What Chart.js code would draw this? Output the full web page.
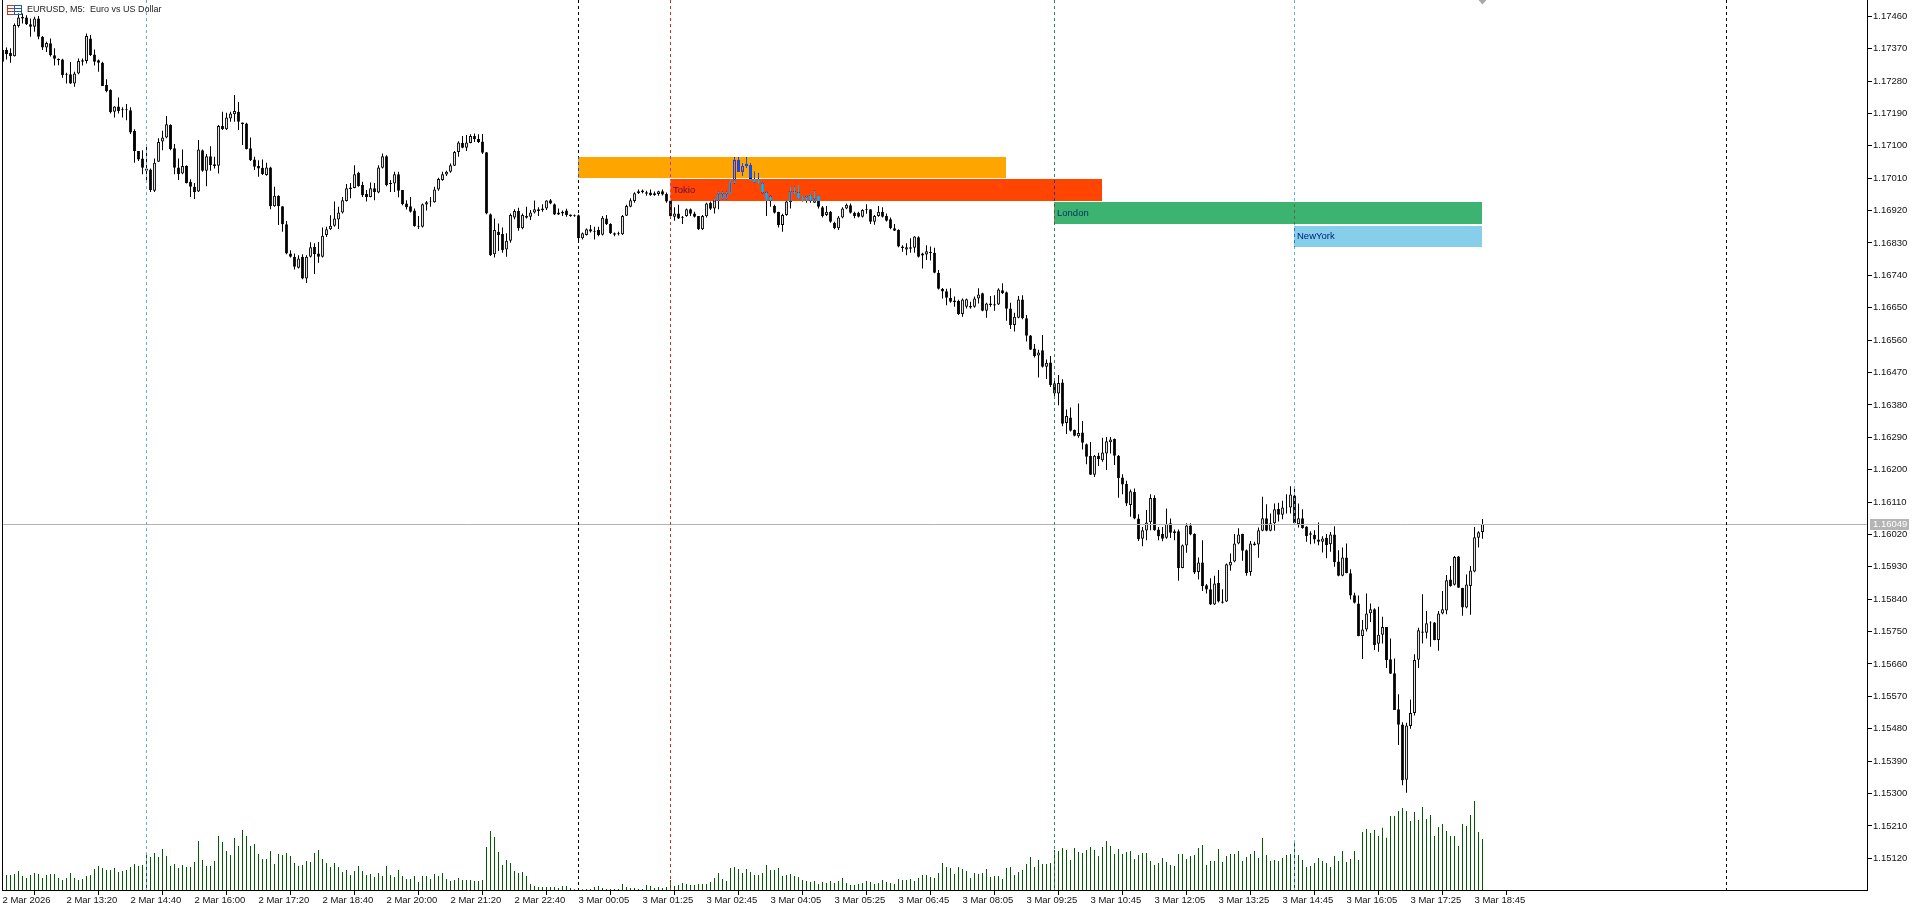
<!DOCTYPE html>
<html>
<head>
<meta charset="utf-8">
<title>EURUSD, M5</title>
<script src="https://cdn.jsdelivr.net/npm/chart.js@4"></script>
<style>
  html, body { margin: 0; padding: 0; background: #fff; }
  canvas { display: block; }
</style>
</head>
<body>
<canvas id="myChart" width="1919" height="911"></canvas>
<script>
// prices are in points, 1 point = 0.00001
const opens = [
117366,117366,117359,117349,117433,117454,117457,117438,117431,117454,
117403,117373,117385,117352,117342,117340,117299,117299,117273,117301,
117338,117336,117398,117354,117338,117331,117269,117255,117195,117209,
117202,117202,117199,117141,117086,117065,117037,117034,116975,117056,
117112,117123,117158,117093,117040,117023,117044,117000,116986,116973,
117088,117031,117071,117049,117045,117155,117146,117176,117188,117195,
117165,117162,117093,117062,117044,117039,117019,117040,116932,116961,
116932,116882,116801,116792,116761,116792,116731,116792,116819,116801,
116792,116852,116868,116878,116895,116915,116947,116984,116983,117025,
116991,116966,116958,116982,116970,117039,117071,116997,116995,117021,
116977,116940,116932,116920,116878,116875,116937,116945,116943,116979,
117005,117020,117028,117045,117083,117108,117095,117108,117127,117119,
117112,117082,116910,116799,116861,116855,116812,116836,116901,116919,
116871,116905,116903,116915,116924,116921,116926,116949,116938,116909,
116917,116920,116909,116907,116907,116843,116852,116868,116864,116866,
116853,116898,116883,116857,116857,116854,116906,116931,116947,116968,
116976,116971,116970,116968,116966,116974,116966,116948,116903,116912,
116903,116905,116924,116912,116905,116868,116904,116942,116926,116948,
116954,116954,116968,117003,117061,117028,117050,117047,117005,117002,
116996,116970,116959,116933,116916,116880,116908,116943,116973,116970,
116956,116952,116963,116942,116961,116929,116908,116917,116886,116871,
116901,116926,116935,116914,116914,116903,116924,116924,116889,116905,
116917,116905,116896,116871,116866,116820,116812,116818,116817,116846,
116795,116798,116806,116803,116747,116703,116696,116678,116670,116669,
116633,116653,116655,116653,116676,116690,116642,116662,116660,116659,
116699,116693,116648,116602,116622,116673,116621,116573,116537,116517,
116532,116486,116498,116440,116412,116442,116330,116345,116310,116293,
116303,116271,116238,116186,116239,116226,116245,116276,116285,116239,
116178,116160,116102,116138,116064,116008,116031,116054,116121,116034,
116021,116011,116051,116023,116029,115927,115989,116045,116021,115916,
115942,115879,115868,115825,115886,115834,115834,115934,115945,115995,
116021,115976,115916,115995,115992,116030,116065,116030,116051,116091,
116075,116095,116095,116128,116049,116065,116042,116023,116019,116006,
116000,116011,115993,116020,115945,115905,115956,115912,115851,115828,
115738,115756,115801,115812,115716,115741,115763,115673,115634,115534,
115492,115338,115488,115524,115672,115750,115747,115775,115775,115727,
115800,115809,115895,115880,115959,115871,115817,115877,115917,116011,116027];
const closes = [
117334,117355,117349,117436,117457,117459,117438,117431,117454,117403,
117373,117386,117352,117342,117338,117297,117297,117273,117301,117336,
117334,117405,117352,117334,117331,117266,117252,117193,117209,117197,
117199,117199,117137,117086,117062,117039,117031,116977,117053,117111,
117123,117160,117091,117039,117021,117044,116997,116986,116972,117090,
117031,117071,117046,117044,117155,117146,117179,117190,117197,117167,
117160,117091,117060,117042,117037,117021,117040,116932,116961,116932,
116882,116801,116792,116764,116787,116731,116792,116818,116799,116792,
116850,116868,116878,116898,116915,116949,116982,116980,117021,116988,
116963,116958,116982,116972,117040,117071,116991,116994,117021,116975,
116938,116929,116917,116877,116875,116938,116943,116943,116979,117008,
117021,117028,117046,117083,117109,117095,117109,117127,117118,117111,
117081,116912,116796,116866,116852,116810,116836,116908,116919,116871,
116908,116900,116915,116924,116919,116926,116948,116940,116909,116915,
116912,116908,116904,116904,116843,116857,116868,116862,116861,116852,
116900,116882,116857,116853,116854,116905,116933,116949,116968,116974,
116971,116967,116963,116963,116974,116965,116945,116905,116912,116898,
116900,116924,116911,116903,116868,116905,116940,116925,116948,116968,
116968,116968,117000,117061,117028,117044,117044,117005,116999,116996,
116970,116952,116948,116914,116880,116908,116945,116973,116968,116954,
116952,116959,116948,116954,116931,116905,116917,116889,116871,116901,
116926,116936,116914,116905,116903,116922,116922,116889,116905,116917,
116903,116892,116871,116864,116820,116816,116818,116814,116848,116792,
116801,116807,116802,116747,116703,116695,116678,116667,116666,116633,
116673,116674,116651,116676,116687,116642,116662,116658,116656,116701,
116690,116647,116602,116625,116673,116621,116572,116533,116516,116526,
116486,116497,116435,116412,116441,116328,116349,116308,116294,116302,
116275,116236,116186,116239,116230,116248,116279,116284,116239,116177,
116159,116106,116140,116064,116007,116032,116053,116121,116032,116015,
116008,116050,116025,116029,115927,115990,116045,116020,115914,115942,
115877,115867,115825,115884,115834,115830,115937,115944,115995,116020,
115975,115913,115995,115990,116032,116065,116030,116051,116090,116075,
116095,116094,116131,116051,116065,116038,116016,116019,116006,116000,
116009,115991,116020,115943,115905,115956,115913,115850,115830,115738,
115756,115800,115812,115713,115741,115763,115671,115633,115532,115491,
115337,115489,115524,115671,115754,115747,115773,115773,115727,115800,
115812,115893,115877,115957,115872,115817,115881,115920,116012,116026,116049];
const highs = [
117368,117373,117371,117440,117468,117468,117463,117454,117459,117461,
117405,117389,117398,117371,117343,117342,117303,117333,117306,117343,
117343,117412,117408,117368,117340,117334,117285,117257,117210,117234,
117207,117216,117207,117146,117086,117088,117102,117037,117065,117121,
117142,117183,117160,117105,117065,117090,117046,117007,116997,117116,
117090,117077,117099,117070,117158,117195,117192,117195,117241,117222,
117165,117164,117123,117070,117060,117062,117053,117042,116986,116963,
116932,116891,116810,116801,116796,116799,116796,116832,116829,116833,
116873,116875,116907,116945,116931,116958,116994,116997,117046,117028,
117000,116977,116998,116997,117046,117079,117074,117005,117028,117028,
116977,116949,116958,116926,116905,116940,116947,116958,116986,117011,
117028,117031,117051,117086,117113,117127,117130,117132,117134,117132,
117133,117083,116912,116898,116884,116873,116857,116912,116924,116928,
116912,116931,116922,116948,116929,116938,116949,116952,116940,116926,
116920,116925,116909,116909,116909,116859,116870,116880,116875,116875,
116905,116908,116885,116859,116861,116908,116936,116954,116971,116979,
116979,116975,116979,116973,116975,116979,116970,116949,116929,116936,
116905,116926,116926,116917,116905,116908,116942,116945,116954,116973,
116973,116973,117005,117068,117068,117051,117068,117051,117028,117024,
116998,116973,116961,116936,116917,116911,116949,116988,116987,116991,
116963,116963,116968,116975,116963,116933,116933,116919,116889,116905,
116929,116940,116940,116917,116917,116924,116938,116924,116908,116933,
116929,116912,116901,116883,116868,116824,116829,116843,116849,116849,
116803,116824,116820,116817,116755,116705,116703,116704,116681,116672,
116676,116676,116667,116681,116704,116692,116664,116683,116685,116704,
116718,116695,116664,116636,116683,116685,116630,116574,116549,116533,
116574,116506,116516,116451,116463,116451,116367,116373,116312,116384,
116335,116273,116277,116241,116247,116289,116291,116291,116287,116241,
116187,116169,116145,116148,116076,116041,116088,116132,116129,116041,
116041,116092,116064,116034,116034,115992,116051,116051,116023,115956,
116004,115882,115898,115905,115921,115868,115939,115967,116021,116037,
116022,115978,116002,116000,116039,116125,116104,116078,116106,116108,
116114,116132,116154,116153,116106,116090,116043,116029,116032,116053,
116015,116021,116027,116043,115976,115984,115995,115923,115858,115850,
115782,115856,115828,115815,115819,115791,115763,115731,115675,115576,
115498,115497,115561,115687,115761,115854,115807,115779,115777,115807,
115863,115907,115932,115960,115960,115872,115909,115932,116041,116029,116063];
const lows = [
117331,117340,117331,117348,117429,117440,117436,117403,117417,117396,
117366,117361,117348,117323,117324,117289,117273,117272,117264,117299,
117323,117329,117350,117323,117306,117266,117249,117190,117179,117190,
117179,117171,117133,117053,117058,117021,117005,116972,116972,117056,
117088,117121,117088,117021,117005,117021,116995,116958,116952,116972,
117028,116988,117031,117037,117023,117144,117144,117167,117167,117144,
117102,117090,117058,117033,117014,117019,117017,116924,116931,116880,
116861,116799,116790,116756,116759,116729,116719,116790,116744,116775,
116790,116847,116866,116875,116869,116912,116945,116954,116982,116986,
116958,116945,116957,116949,116968,117037,116988,116972,116972,116957,
116935,116923,116915,116875,116869,116873,116920,116931,116942,116975,
117003,117016,117025,117044,117070,117093,117086,117107,117111,117108,
117077,116910,116794,116790,116808,116803,116792,116831,116896,116864,
116868,116898,116894,116912,116905,116917,116922,116938,116908,116908,
116905,116903,116903,116903,116836,116840,116851,116859,116840,116849,
116851,116880,116855,116849,116851,116852,116905,116929,116942,116966,
116968,116961,116961,116961,116961,116962,116942,116898,116892,116897,
116883,116903,116905,116901,116866,116866,116901,116922,116912,116924,
116951,116951,116966,116996,117027,117016,117040,117003,116998,116994,
116968,116905,116931,116912,116873,116861,116906,116926,116966,116952,
116945,116942,116942,116942,116926,116901,116905,116886,116868,116866,
116899,116924,116912,116899,116901,116901,116911,116883,116881,116903,
116901,116890,116868,116863,116818,116806,116796,116803,116803,116790,
116759,116783,116781,116746,116701,116676,116657,116664,116653,116630,
116625,116648,116647,116650,116662,116640,116622,116653,116642,116658,
116688,116614,116591,116584,116621,116618,116556,116533,116512,116456,
116484,116452,116430,116403,116379,116321,116299,116306,116293,116289,
116256,116215,116185,116180,116210,116222,116199,116245,116213,116122,
116132,116099,116069,116062,116002,115987,116004,116032,116030,116004,
116001,116008,116010,116004,115891,115926,115969,116018,115910,115895,
115863,115856,115824,115824,115831,115828,115832,115919,115943,115993,
115947,115905,115905,115989,115955,116029,116029,116029,116030,116056,
116062,116078,116078,116049,116039,116036,116000,115993,115995,115990,
115970,115954,115972,115930,115904,115904,115912,115839,115828,115737,
115674,115750,115777,115699,115694,115717,115649,115632,115532,115435,
115323,115302,115480,115517,115649,115717,115731,115708,115726,115697,
115798,115798,115875,115878,115871,115794,115815,115797,115915,115984,116008];
const volumes = [
45,45,45,48,57,42,36,45,51,48,36,45,48,48,36,30,36,51,36,30,
33,42,45,63,72,66,60,60,66,54,57,60,69,78,72,75,110,99,111,99,
123,102,72,78,66,75,69,69,84,147,90,72,72,87,162,144,117,105,156,132,
180,162,132,138,108,93,93,117,78,108,105,111,102,81,72,75,87,84,111,120,
93,81,69,81,69,54,60,45,57,72,57,45,48,39,51,42,72,45,39,60,
42,33,33,42,24,42,42,33,48,42,51,33,27,30,36,30,30,30,27,27,
30,129,177,159,114,75,90,81,57,51,54,42,18,12,9,9,9,9,9,6,
12,12,6,2,2,2,3,3,9,12,6,3,3,3,3,18,9,6,6,3,
3,15,12,6,9,6,9,30,12,15,21,18,15,15,18,18,18,24,36,51,
33,27,66,69,63,51,63,54,45,45,51,75,60,60,66,42,45,48,42,39,
30,27,24,27,18,24,21,27,21,27,36,21,15,15,18,21,27,24,18,21,
30,24,21,18,33,30,30,33,27,36,45,45,39,36,51,81,69,66,48,69,
63,57,36,51,48,51,63,39,42,42,33,66,69,45,54,60,78,99,69,90,
78,78,81,120,117,126,120,90,126,114,111,120,129,120,102,129,147,132,108,123,
108,114,117,93,105,111,111,87,75,81,96,84,75,72,108,108,93,102,105,126,
135,75,87,87,123,84,102,108,108,117,87,99,108,117,96,156,105,87,90,87,
96,105,108,140,105,90,69,72,81,96,87,81,69,102,87,117,84,93,117,90,
174,183,171,180,162,187,157,222,222,237,246,237,207,234,210,249,213,225,162,189,
198,177,162,162,132,198,192,225,267,174,153];

const xTickLabels = [
'2 Mar 2026','2 Mar 13:20','2 Mar 14:40','2 Mar 16:00','2 Mar 17:20','2 Mar 18:40','2 Mar 20:00','2 Mar 21:20',
'2 Mar 22:40','3 Mar 00:05','3 Mar 01:25','3 Mar 02:45','3 Mar 04:05','3 Mar 05:25','3 Mar 06:45','3 Mar 08:05',
'3 Mar 09:25','3 Mar 10:45','3 Mar 12:05','3 Mar 13:25','3 Mar 14:45','3 Mar 16:05','3 Mar 17:25','3 Mar 18:45'];
const yTickValues = [
1.1746,1.1737,1.1728,1.1719,1.171,1.1701,1.1692,1.1683,1.1674,1.1665,1.1656,1.1647,1.1638,1.1629,
1.162,1.1611,1.1602,1.1593,1.1584,1.1575,1.1566,1.1557,1.1548,1.1539,1.153,1.1521,1.1512];
const lastPrice = 1.16049;

// session boxes, bars are counted from the first candle
const sessionNames = ['', 'Tokio', 'London', 'NewYork'];
const sessionStart = [144, 167, 263, 323];
const sessionEnd = [251, 275, 370, 370];
const sessionTop = [1.1707, 1.17008, 1.16944, 1.16877];
const sessionBottom = [1.1701, 1.16946, 1.16882, 1.16819];
const sessionLines = [36, 144, 167, 263, 323, 431];

// the terminal xors the boxes over the chart, so these are the xor colours
const sessionXor = ['#005aff', '#00baff', '#c34c8e', '#783114'];
const sessionText = ['#000', '#5a0a50', '#04305f', '#00207f'];
const lineColors = ['#62b4cf', '#000000', '#c9301a', '#2e8b57', '#62b4cf', '#000000'];

const FONT = '9.5px "Liberation Sans", Arial, sans-serif';
const barsTotal = 466.25;
const price = p => p / 100000;

const chartArt = {
    id: 'chartArt',
    beforeDraw(chart) {
        const c = chart.ctx;
        c.save();
        c.fillStyle = '#fff';
        c.fillRect(0, 0, chart.width, chart.height);
        c.restore();
    },
    afterDatasetsDraw(chart) {
        const c = chart.ctx, x = chart.scales.x, y = chart.scales.y, area = chart.chartArea;
        c.save();

        const lastY = Math.round(y.getPixelForValue(lastPrice)) + 0.5;
        c.strokeStyle = '#b4b4b4';
        c.lineWidth = 1;
        c.beginPath();
        c.moveTo(area.left, lastY);
        c.lineTo(area.right, lastY);
        c.stroke();

        c.setLineDash([3, 3]);
        sessionLines.forEach((bar, i) => {
            const px = Math.floor(x.getPixelForValue(bar)) + 0.5;
            c.strokeStyle = lineColors[i];
            c.beginPath();
            c.moveTo(px, area.top);
            c.lineTo(px, area.bottom);
            c.stroke();
        });
        c.setLineDash([]);

        c.globalCompositeOperation = 'difference';
        sessionStart.forEach((bar, i) => {
            const left = Math.floor(x.getPixelForValue(bar));
            const right = Math.floor(x.getPixelForValue(sessionEnd[i]));
            const top = Math.round(y.getPixelForValue(sessionTop[i]));
            const bottom = Math.round(y.getPixelForValue(sessionBottom[i]));
            c.fillStyle = sessionXor[i];
            c.fillRect(left, top, right - left, bottom - top);
        });
        c.globalCompositeOperation = 'source-over';

        c.font = FONT;
        c.textBaseline = 'middle';
        sessionNames.forEach((name, i) => {
            c.fillStyle = sessionText[i];
            const mid = y.getPixelForValue((sessionTop[i] + sessionBottom[i]) / 2);
            c.fillText(name, x.getPixelForValue(sessionStart[i]) + 2.5, mid);
        });

        // little marker of the last bar at the top edge
        const mark = x.getPixelForValue(370);
        c.fillStyle = '#a8a8a8';
        c.beginPath();
        c.moveTo(mark - 4, 0);
        c.lineTo(mark + 4, 0);
        c.lineTo(mark, 4.5);
        c.fill();
        c.restore();
    },
    afterDraw(chart) {
        const c = chart.ctx, y = chart.scales.y, area = chart.chartArea;
        c.save();

        // left edge of the window
        c.fillStyle = '#000';
        c.fillRect(area.left, 0, 1, area.bottom);
        c.fillRect(area.right, 0, 1, area.bottom);

        // current price tag
        const lastY = Math.round(y.getPixelForValue(lastPrice));
        c.fillStyle = '#b4b4b4';
        c.fillRect(area.right + 3, lastY - 5, 39, 11);
        c.fillStyle = '#fff';
        c.font = FONT;
        c.textBaseline = 'middle';
        c.fillText(lastPrice.toFixed(5), area.right + 6, lastY + 0.5);

        // title and the little table icon
        c.strokeStyle = '#c0392b';
        c.strokeRect(7.5, 5.5, 7, 9);
        c.beginPath();
        c.moveTo(8, 8.5); c.lineTo(14, 8.5); c.moveTo(8, 11.5); c.lineTo(14, 11.5);
        c.stroke();
        c.strokeStyle = '#1f5f9e';
        c.strokeRect(14.5, 5.5, 7, 9);
        c.beginPath();
        c.moveTo(15, 8.5); c.lineTo(21, 8.5); c.moveTo(15, 11.5); c.lineTo(21, 11.5);
        c.stroke();
        c.fillStyle = '#222';
        c.font = '9px "Liberation Sans", Arial, sans-serif';
        c.fillText('EURUSD, M5:  Euro vs US Dollar', 27, 10);
        c.restore();
    }
};

const ctx = document.getElementById('myChart').getContext('2d');
const myChart = new Chart(ctx, {
    type: 'bar',
    data: {
        datasets: [{
            label: 'Volume',
            yAxisID: 'yVol',
            order: 3,
            grouped: false,
            maxBarThickness: 1,
            backgroundColor: '#005c00',
            data: volumes.map((v, i) => ({ x: i, y: v }))
        }, {
            label: 'Wicks',
            order: 2,
            grouped: false,
            maxBarThickness: 1,
            backgroundColor: '#000',
            data: highs.map((h, i) => ({ x: i, y: [price(lows[i]), price(h)] }))
        }, {
            label: 'Bodies',
            order: 1,
            grouped: false,
            maxBarThickness: 3,
            borderWidth: 1,
            borderSkipped: false,
            borderColor: '#000',
            backgroundColor: c => closes[c.dataIndex] > opens[c.dataIndex] ? '#fff' : '#000',
            data: opens.map((o, i) => ({ x: i, y: [price(o), price(closes[i])] }))
        }]
    },
    plugins: [chartArt],
    options: {
        responsive: false,
        animation: false,
        events: [],
        layout: { padding: { left: 2, top: 0, right: 0, bottom: 0 } },
        plugins: { legend: { display: false }, tooltip: { enabled: false }, title: { display: false } },
        scales: {
            x: {
                type: 'linear',
                offset: false,
                min: -0.125,
                max: barsTotal - 0.125,
                afterBuildTicks: s => { s.ticks = xTickLabels.map((l, i) => ({ value: i * 16 })); },
                afterFit: s => { s.height = 21; },
                grid: { display: true, drawOnChartArea: false, drawTicks: true, tickLength: 5, tickColor: '#000' },
                border: { display: true, color: '#000' },
                ticks: {
                    autoSkip: false,
                    maxRotation: 0,
                    minRotation: 0,
                    align: 'start',
                    padding: 0,
                    color: '#111',
                    font: { family: '"Liberation Sans"', size: 9.5 },
                    callback: (v, i) => xTickLabels[i]
                }
            },
            y: {
                position: 'right',
                min: 1.150319,
                max: 1.175053,
                afterBuildTicks: s => { s.ticks = yTickValues.map(v => ({ value: v })); },
                afterFit: s => { s.width = 52; s.paddingTop = 0; s.paddingBottom = 0; },
                grid: { display: true, drawOnChartArea: false, drawTicks: true, tickLength: 5, tickColor: '#000' },
                border: { display: true, color: '#000' },
                ticks: {
                    autoSkip: false,
                    padding: 1,
                    color: '#111',
                    font: { family: '"Liberation Sans"', size: 9.5 },
                    callback: v => v.toFixed(5)
                }
            },
            yVol: { display: false, min: 0, max: 2670 }
        }
    }
});
</script>
</body>
</html>
